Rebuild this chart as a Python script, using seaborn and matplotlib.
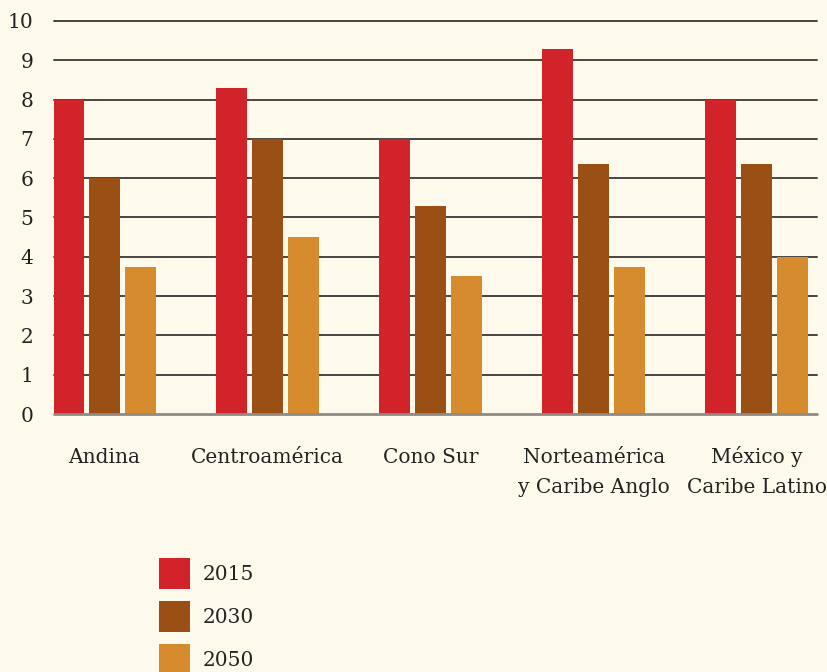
import pandas as pd
import matplotlib
matplotlib.use("Agg")
import matplotlib.pyplot as plt
import seaborn as sns

# Chart data
regions = ["Andina", "Centroamérica", "Cono Sur",
           "Norteamérica\ny Caribe Anglo", "México y\nCaribe Latino"]
years = ["2015", "2030", "2050"]
values_2015 = [8.0, 8.3, 7.0, 9.3, 8.0]
values_2030 = [6.0, 7.0, 5.3, 6.35, 6.35]
values_2050 = [3.75, 4.5, 3.5, 3.75, 4.0]
colors = ["#D2232A", "#9A4F15", "#D68B2E"]
bg = "#FDF9EB"
fsize = 14.5

df = pd.DataFrame({
    "region": regions * 3,
    "year": [y for y in years for _ in regions],
    "value": values_2015 + values_2030 + values_2050,
})

sns.set_style("white")
plt.rcParams["font.family"] = ["DejaVu Serif"]

fig = plt.figure(figsize=(8.27, 6.72), dpi=100, facecolor=bg)
ax = fig.add_axes([54 / 827, 258 / 672, (817 - 54) / 827, (414 - 21) / 672])
ax.set_facecolor(bg)

sns.barplot(data=df, x="region", y="value", hue="year", hue_order=years,
            palette=colors, width=0.66, gap=0.14, saturation=1,
            linewidth=0, edgecolor="none", ax=ax)
for p in ax.patches:
    p.set_zorder(3)

ax.set_ylim(0, 10)
ax.set_xlim(-0.31, 4.37)
ax.set_yticks(range(0, 11))
for v in range(1, 11):
    ax.axhline(v, color="#4a4540", lw=1.4, zorder=1, clip_on=False)
ax.axhline(0, color="#8f8a84", lw=2, zorder=4, clip_on=False)

for s in ax.spines.values():
    s.set_visible(False)
ax.tick_params(axis="both", length=0, labelsize=fsize, colors="#222222")
ax.tick_params(axis="y", pad=15)
ax.set_xticklabels([])
ax.set_xlabel("")
ax.set_ylabel("")

# category labels, one line at a time so first lines share a baseline
for i, name in enumerate(regions):
    for j, line in enumerate(name.split("\n")):
        ax.annotate(line, xy=(i, 0), xycoords=("data", "axes fraction"),
                    xytext=(0, -49 - 30 * j), textcoords="offset pixels",
                    ha="center", va="baseline", fontsize=fsize,
                    color="#222222", annotation_clip=False)

handles, labels = ax.get_legend_handles_labels()
ax.get_legend().remove()
fig.legend(handles, labels, loc="upper left",
           bbox_to_anchor=(159 / 827, 1 - 558 / 672), frameon=False,
           fontsize=fsize, handlelength=1.54, handleheight=1.99,
           labelspacing=0.6, handletextpad=0.65, borderpad=0,
           borderaxespad=0, labelcolor="#222222")

fig.savefig("out.png", dpi=100, facecolor=bg)
